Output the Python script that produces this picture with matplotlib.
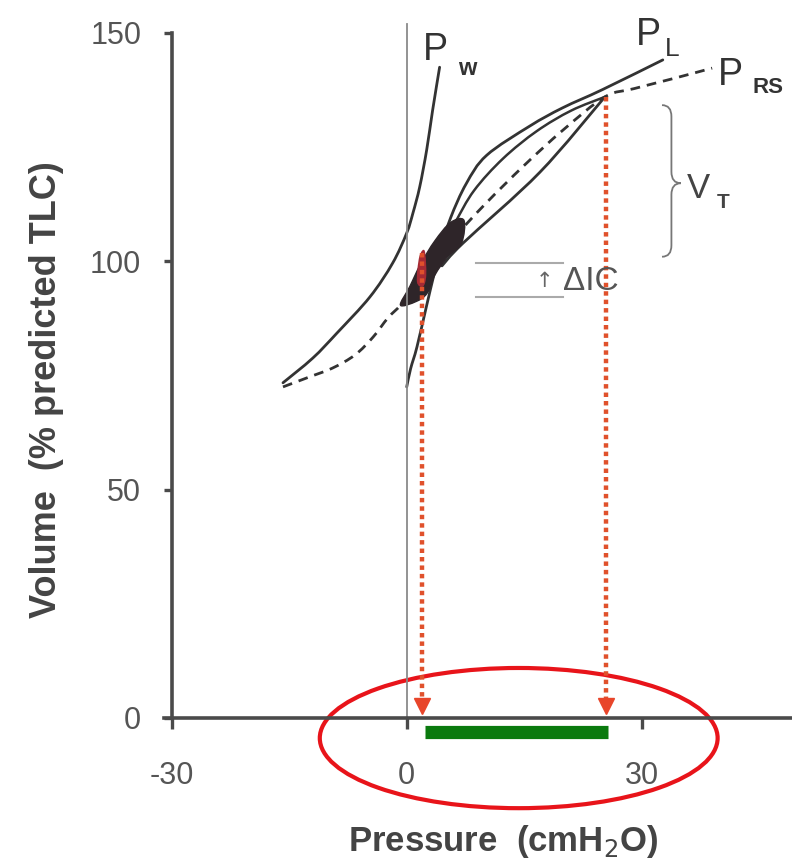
import numpy as np
import matplotlib
matplotlib.use("Agg")
import matplotlib.pyplot as plt
from matplotlib.patches import Ellipse, PathPatch
from matplotlib.path import Path

plt.rcParams['font.family'] = ['Liberation Sans', 'DejaVu Sans']
plt.rcParams['axes.unicode_minus'] = False

# chest wall curve (Pw)
pw_x = [-15.8, -12.0, -8.9, -4.7, -1.8, 0.0, 0.8, 1.66, 2.55, 3.3, 4.2]
pw_y = [73.4, 78.8, 84.3, 92.2, 99.6, 106.2, 110.6, 116.3, 124.4, 133.0, 142.5]

# lung curve (PL)
pl_x = [0.0, 0.5, 1.3, 2.5, 3.4, 4.3, 5.6, 7.6, 10.2, 15.7, 19.9, 25.0, 32.7]
pl_y = [72.5, 76.5, 81.2, 90.0, 96.5, 102.5, 109.5, 117.0, 123.2, 129.6, 133.6, 137.6, 144.1]

# respiratory system curve (PRS, dashed)
prs_x = [-15.8, -12.4, -9.5, -6.6, -4.3, -2.4, -0.5, 3.0, 6.0, 10.0, 15.0, 20.0, 25.3, 29.0, 34.0, 39.0]
prs_y = [72.5, 74.7, 76.6, 79.5, 83.4, 87.6, 90.9, 98.0, 105.0, 112.5, 121.0, 128.8, 136.0, 137.8, 140.0, 142.3]

# tidal loop: inner upper arc and lower limb
loop_up_x = [4.6, 6.2, 8.6, 12.3, 16.6, 21.0, 25.3]
loop_up_y = [103.0, 108.5, 115.5, 122.5, 128.5, 133.0, 136.0]
loop_lo_x = [4.5, 7.2, 17.0, 25.3]
loop_lo_y = [99.0, 104.0, 119.5, 136.0]

# overlapping loops near FRC
blob_x = [-0.8, 0.4, 1.8, 3.6, 5.6, 7.3, 7.0, 5.2, 3.6, 2.6, 1.2]
blob_y = [90.4, 94.5, 99.5, 104.5, 108.5, 109.0, 104.0, 101.0, 97.0, 93.0, 91.2]
red_x = [1.3, 1.6, 2.3, 2.5, 2.1]
red_y = [95.5, 101.0, 102.3, 97.0, 94.5]

# end-expiratory / end-inspiratory pressures
arrow_x = [2.0, 25.4]
arrow_top = [101.8, 136.0]

# inspiratory capacity change
ic_levels = [99.6, 92.2]
ic_x = [8.9, 19.9]


def smooth_path(xs, ys):
    # Catmull-Rom through the read points, drawn as cubic Bezier segments
    p = np.column_stack([xs, ys]).astype(float)
    verts = [p[0]]
    codes = [Path.MOVETO]
    for i in range(len(p) - 1):
        p0 = p[i - 1] if i > 0 else p[i]
        p3 = p[i + 2] if i + 2 < len(p) else p[i + 1]
        c1 = p[i] + (p[i + 1] - p0) / 6.0
        c2 = p[i + 1] - (p3 - p[i]) / 6.0
        verts += [c1, c2, p[i + 1]]
        codes += [Path.CURVE4] * 3
    return Path(verts, codes)


def closed_smooth(xs, ys):
    p = np.column_stack([xs, ys]).astype(float)
    n = len(p)
    verts = [p[0]]
    codes = [Path.MOVETO]
    for i in range(n):
        p0, p1, p2, p3 = p[i - 1], p[i], p[(i + 1) % n], p[(i + 2) % n]
        verts += [p1 + (p2 - p0) / 6.0, p2 - (p3 - p1) / 6.0, p2]
        codes += [Path.CURVE4] * 3
    return Path(verts, codes)


fig = plt.figure(figsize=(7.92, 8.66), dpi=100)
ax = fig.add_axes([0.207, 0.0549, 0.796, 0.9334])
ax.set_xlim(-31, 49.5)
ax.set_ylim(-22, 155)

for s in ['top', 'right']:
    ax.spines[s].set_visible(False)
ax.spines['left'].set_position(('data', -30))
ax.spines['bottom'].set_position(('data', 0))
ax.spines['left'].set_bounds(0, 150)
for s in ['left', 'bottom']:
    ax.spines[s].set_color('#4a4a4a')
    ax.spines[s].set_linewidth(2.6)

ax.set_xticks([-30, 0, 30])
ax.set_yticks([0, 50, 100, 150])
ax.tick_params(axis='y', direction='out', length=6, width=2.4, color='#4a4a4a',
               labelsize=22, labelcolor='#555555', pad=16)
ax.tick_params(axis='x', direction='out', length=8, width=2.4, color='#4a4a4a',
               labelsize=22, labelcolor='#555555', pad=23)

ax.set_ylabel('Volume  (% predicted TLC)', fontsize=26, fontweight='bold',
              color='#444444')
ax.yaxis.set_label_coords(-0.158, 0.53)
ax.set_xlabel('Pressure  (cmH$_2$O)', fontsize=25, fontweight='bold', color='#444444')
ax.xaxis.set_label_coords(0.538, -0.006)

# zero pressure line
ax.plot([0, 0], [0, 152], color='#8a8a8a', lw=1.3, clip_on=False)

# curves
line_kw = dict(fill=False, edgecolor='#333333', lw=2.0, capstyle='round')
ax.add_patch(PathPatch(smooth_path(pw_x, pw_y), **line_kw))
ax.add_patch(PathPatch(smooth_path(pl_x, pl_y), **line_kw))
ax.add_patch(PathPatch(smooth_path(prs_x, prs_y), fill=False, edgecolor='#333333',
                       lw=2.0, ls=(0, (3.5, 2.5))))
ax.add_patch(PathPatch(smooth_path(loop_up_x, loop_up_y), fill=False,
                       edgecolor='#333333', lw=1.8))
ax.add_patch(PathPatch(smooth_path(loop_lo_x, loop_lo_y), **line_kw))
ax.add_patch(PathPatch(closed_smooth(blob_x, blob_y), facecolor='#2e2529',
                       edgecolor='#2e2529', lw=1))
ax.add_patch(PathPatch(closed_smooth(red_x, red_y), facecolor='#a52a35',
                       edgecolor='none'))

# red dotted arrows
for xa, yt in zip(arrow_x, arrow_top):
    ax.plot([xa, xa], [yt, 3], color='#e0512c', lw=3.2, ls=(0, (1, 0.9)))
    ax.plot([xa], [2.6], marker='v', ms=11, color='#e8452a', mec='#e8452a')

# green bar
ax.plot([arrow_x[0] + 0.3, arrow_x[1] + 0.3], [-3.0, -3.0], color='#0a7a0e', lw=9.5,
        solid_capstyle='butt', clip_on=False)

# red ellipse
ax.add_patch(Ellipse((14.3, -4.4), 50.8, 30.7, fill=False, edgecolor='#e8141a',
                     lw=3.0, clip_on=False))

# inspiratory capacity lines
for lv in ic_levels:
    ax.plot(ic_x, [lv, lv], color='#aaaaaa', lw=1.5)
ax.text(17.6, 95.6, '↑', fontsize=15, color='#666666', ha='center', va='center',
        family=['DejaVu Sans'])
ax.text(19.9, 95.6, 'ΔIC', fontsize=24, color='#555555', ha='left', va='center')

# V_T brace
xs, xh, xt = 33.8, 32.6, 35.0
yt, ym, yb = 134.2, 117.1, 101.0
verts = [(xh, yt), (xs, yt), (xs, yt - 2.5),
         (xs, ym + 2.5),
         (xs, ym), (xt, ym),
         (xs, ym), (xs, ym - 2.5),
         (xs, yb + 2.5),
         (xs, yb), (xh, yb)]
codes = [Path.MOVETO, Path.CURVE3, Path.CURVE3,
         Path.LINETO,
         Path.CURVE3, Path.CURVE3,
         Path.CURVE3, Path.CURVE3,
         Path.LINETO,
         Path.CURVE3, Path.CURVE3]
ax.add_patch(PathPatch(Path(verts, codes), fill=False, edgecolor='#777777', lw=1.3))
ax.text(35.8, 113.8, 'V', fontsize=25, color='#444444', ha='left', va='baseline')
ax.text(39.6, 111.6, 'T', fontsize=15, color='#444444', ha='left', va='baseline',
        fontweight='bold')

# curve labels
ax.text(2.0, 144.1, 'P', fontsize=27, color='#333333', ha='left', va='baseline')
ax.text(6.5, 140.8, 'w', fontsize=17, color='#333333', ha='left', va='baseline',
        fontweight='bold')
ax.text(29.2, 147.4, 'P', fontsize=27, color='#333333', ha='left', va='baseline')
ax.text(33.0, 145.0, 'L', fontsize=19, color='#333333', ha='left', va='baseline')
ax.text(39.7, 138.6, 'P', fontsize=27, color='#333333', ha='left', va='baseline')
ax.text(44.1, 136.8, 'RS', fontsize=16, color='#333333', ha='left', va='baseline',
        fontweight='bold')

fig.savefig('out.png', dpi=100)
